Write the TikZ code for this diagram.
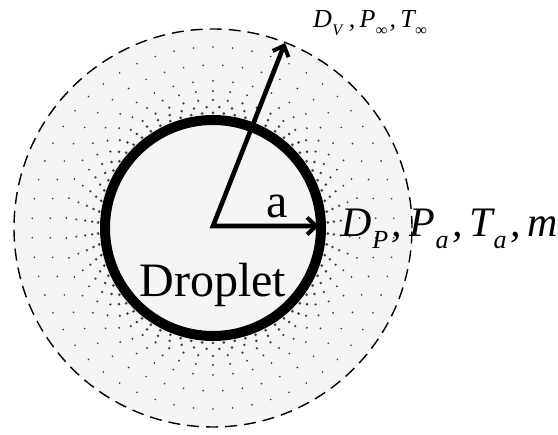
\documentclass[tikz,border=0pt]{standalone}
\usepackage{fontspec}
\usepackage{graphicx}
\setmainfont{Liberation Serif}
\usetikzlibrary{arrows.meta}
\newcommand\lsub[1]{\kern0.02em\raisebox{-0.28em}{\scalebox{0.62}{#1}}\kern0.08em}
\begin{document}
\begin{tikzpicture}[x=1pt,y=-1pt,
  outer/.style={draw=black, line width=1.4pt, dash pattern=on 12pt off 7pt, fill=gray!8},
  drop/.style={draw=black, line width=10pt},
  radarrow/.style={line width=4.6pt, line join=miter,
    {Straight Barb[length=9pt,width=17pt,line width=4pt]}-{Straight Barb[length=9pt,width=17pt,line width=4pt]}},
  dotc/.style={fill=black!75},
  lbl/.style={inner sep=0pt}]
\useasboundingbox (0,0) rectangle (558,435);
\coordinate (c) at (213,228);
\path[outer] (c) circle (199pt);
\foreach \r/\n/\s in {115/66/1.5, 121/60/1.4, 128/54/1.25, 137/50/1.1, 147/46/1.0, 163/52/0.95, 181/58/0.9}{
  \foreach \i in {1,...,\n}{
    \fill[dotc] (c) ++({360/\n*(\i-0.5)}:\r pt) circle (\s pt);
  }
}
\draw[drop] (c) circle (108pt);
\coordinate (o) at (213,226);
\coordinate (tipR) at (319,226);
\coordinate (tipV) at (285,43);
\draw[radarrow] (tipV) -- (o) -- (tipR);
\node[lbl, anchor=base] (a) at (277,218) {\fontsize{48}{48}\selectfont a};
\node[lbl, anchor=base] (dl) at (213,297) {\fontsize{48}{48}\selectfont Droplet};
\node[lbl, anchor=base west] (rl) at (341,237) {\fontsize{42}{42}\selectfont\itshape D\lsub{P},\,P\lsub{a},\,T\lsub{a},\,m};
\node[lbl, anchor=base west] (tl) at (313,28) {\fontsize{26}{26}\selectfont\itshape D\lsub{V}\,,\,P\lsub{∞},\,T\lsub{∞}};
\end{tikzpicture}
\end{document}
